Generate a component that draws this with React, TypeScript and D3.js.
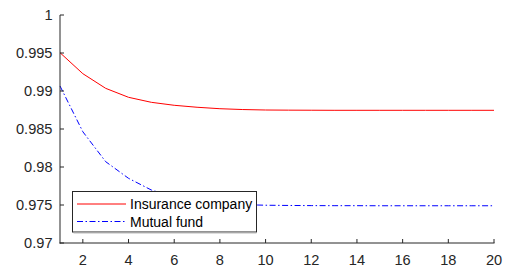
import React from "react";
import * as d3 from "d3";

const periods = [1, 2, 3, 4, 5, 6, 7, 8, 9, 10, 11, 12, 13, 14, 15, 16, 17, 18, 19, 20];
const insurance = [0.99504, 0.99228, 0.99035, 0.98917, 0.98851, 0.98812, 0.98786, 0.98767, 0.98756, 0.98750, 0.98748, 0.98747, 0.98746, 0.98746, 0.98746, 0.98746, 0.98746, 0.98746, 0.98746, 0.98746];
const mutualFund = [0.99066, 0.98464, 0.98070, 0.97851, 0.97697, 0.97605, 0.97552, 0.97522, 0.97505, 0.97497, 0.97494, 0.97492, 0.97491, 0.97491, 0.97490, 0.97490, 0.97490, 0.97490, 0.97490, 0.97490];
const xTicks = [2, 4, 6, 8, 10, 12, 14, 16, 18, 20];
const yTicks = [0.97, 0.975, 0.98, 0.985, 0.99, 0.995, 1];
const seriesNames = ["Insurance company", "Mutual fund"];

export default function App() {
  const W = 510, H = 269;
  const left = 60, right = 494, top = 15, bottom = 243;
  const x = d3.scaleLinear().domain([1, 20]).range([left, right]);
  const y = d3.scaleLinear().domain([0.97, 1]).range([bottom, top]);
  const line = d3.line<number>().x((_, i) => x(periods[i])).y((d) => y(d));
  const axisColor = "#262626";
  const font = "'Liberation Sans', Arial, sans-serif";
  const fmt = (v: number) => (v === 1 ? "1" : String(+v.toFixed(3)));

  const lg = { x: 72.5, y: 191.5, w: 184, h: 40.5 };
  return (
    <svg width={W} height={H} style={{ position: "absolute", left: 0, top: 0, background: "#fff" }}>
      <path d={line(insurance) || ""} fill="none" stroke="#ff0000" strokeWidth={1} />
      <path d={line(mutualFund) || ""} fill="none" stroke="#0000ff" strokeWidth={1} strokeDasharray="6,2.5,1.5,2.5" />
      {/* axes */}
      <line x1={left} y1={top} x2={left} y2={bottom + 0.5} stroke={axisColor} strokeWidth={1} />
      <line x1={left - 0.5} y1={bottom} x2={right + 0.5} y2={bottom} stroke={axisColor} strokeWidth={1} />
      {yTicks.map((t) => (
        <g key={"y" + t}>
          <line x1={left} x2={left + 4} y1={y(t)} y2={y(t)} stroke={axisColor} />
          <text x={left - 7.5} y={y(t) + 5.4} textAnchor="end" fontSize={14.6} fontFamily={font} fill={axisColor}>{fmt(t)}</text>
        </g>
      ))}
      {xTicks.map((t) => (
        <g key={"x" + t}>
          <line x1={x(t)} x2={x(t)} y1={bottom} y2={bottom - 4} stroke={axisColor} />
          <text x={x(t)} y={265} textAnchor="middle" fontSize={14.6} fontFamily={font} fill={axisColor}>{t}</text>
        </g>
      ))}
      {/* legend */}
      <rect x={lg.x} y={lg.y} width={lg.w} height={lg.h} fill="#fff" stroke="#262626" strokeWidth={1} />
      <line x1={lg.x + 1} x2={lg.x + lg.w} y1={lg.y + lg.h + 1} y2={lg.y + lg.h + 1} stroke="#bbb" />
      <line x1={77} x2={126} y1={204} y2={204} stroke="#ff0000" />
      <text x={130} y={209} fontSize={14} fontFamily={font} fill="#000">{seriesNames[0]}</text>
      <line x1={77} x2={126} y1={221.5} y2={221.5} stroke="#0000ff" strokeDasharray="6,2.5,1.5,2.5" />
      <text x={130} y={226.5} fontSize={14} fontFamily={font} fill="#000">{seriesNames[1]}</text>
    </svg>
  );
}
